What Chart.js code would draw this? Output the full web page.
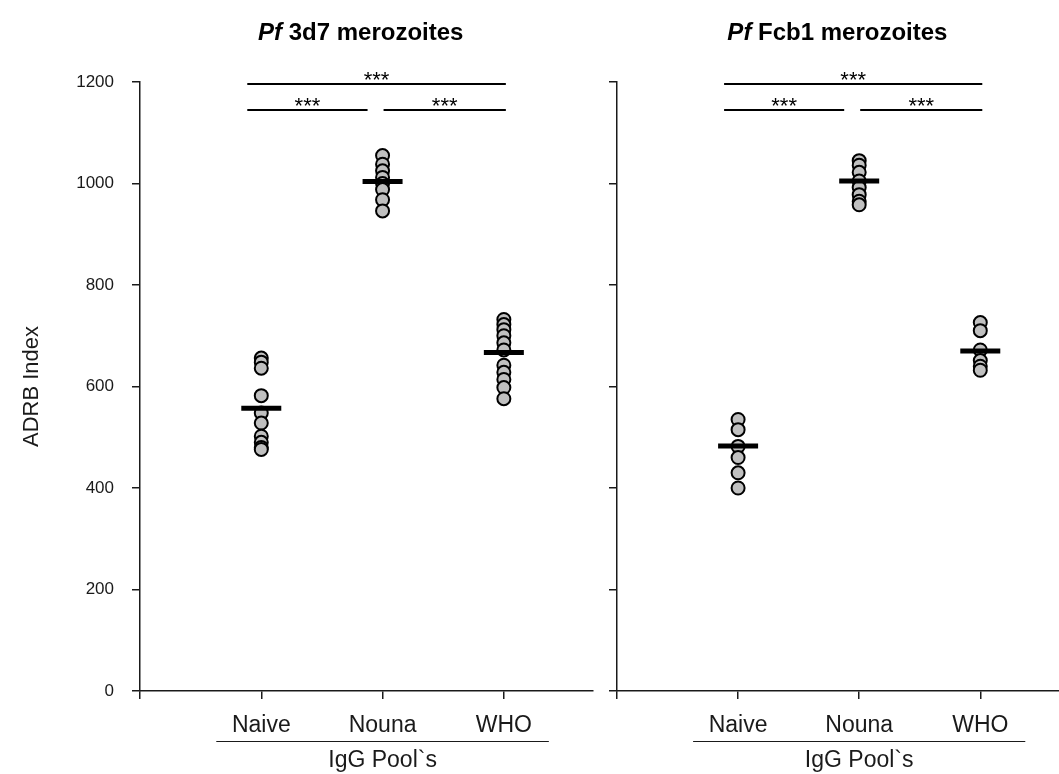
<!DOCTYPE html>
<html>
<head>
<meta charset="utf-8">
<title>ADRB Index</title>
<script src="https://cdn.jsdelivr.net/npm/chart.js@4.4.0/dist/chart.umd.min.js"></script>
<style>
  body { margin: 0; background: #fff; }
  #wrap { position: relative; width: 1059px; height: 774px; overflow: hidden; }
  canvas { position: absolute; top: 0; }
</style>
</head>
<body>
<div id="wrap">
  <canvas id="left-canvas" style="left:0px" width="600" height="774"></canvas>
  <canvas id="right-canvas" style="left:600px" width="459" height="774"></canvas>
</div>
<script>
// categories and tick labels
const categories = ["Naive", "Nouna", "WHO"];
const yTicks = [0, 200, 400, 600, 800, 1000, 1200];
const groupLabel = "IgG Pool`s";

// Pf 3d7 merozoites
const pf3d7Naive = [656, 648, 636, 582, 548, 528, 502, 490, 480, 476];
const pf3d7Nouna = [1055, 1038, 1025, 1012, 1000, 988, 968, 946];
const pf3d7Who = [732, 722, 712, 700, 686, 672, 642, 628, 614, 598, 576];
const pf3d7Means = [557, 1004, 667];

// Pf Fcb1 merozoites
const fcb1Naive = [535, 515, 482, 460, 430, 400];
const fcb1Nouna = [1045, 1036, 1022, 1005, 992, 978, 965, 958];
const fcb1Who = [726, 710, 672, 651, 640, 632];
const fcb1Means = [483, 1005, 670];

// significance brackets: [from category, to category, label]
const comparisons = [[1, 3, "***"], [1, 2, "***"], [2, 3, "***"]];

const FONT = "'Liberation Sans', Arial, sans-serif";
const INK = "#1a1a1a";

function toPoints(groups) {
  let pts = [];
  groups.forEach((vals, i) => {
    vals.forEach(v => pts.push({ x: i + 1, y: v }));
  });
  return pts;
}

// title, significance bars and the group underline
const decorPlugin = {
  id: "decor",
  afterDraw(chart, args, opts) {
    const ctx = chart.ctx;
    const xs = chart.scales.x;
    const ys = chart.scales.y;
    ctx.save();

    // title with italic "Pf"
    const cx = xs.getPixelForValue(1.82);
    ctx.textBaseline = "middle";
    ctx.fillStyle = "#000";
    ctx.font = "italic bold 24px " + FONT;
    const w1 = ctx.measureText("Pf").width;
    ctx.font = "bold 24px " + FONT;
    const w2 = ctx.measureText(" " + opts.title).width;
    let tx = cx - (w1 + w2) / 2;
    ctx.textAlign = "left";
    ctx.font = "italic bold 24px " + FONT;
    ctx.fillText("Pf", tx, 33);
    ctx.font = "bold 24px " + FONT;
    ctx.fillText(" " + opts.title, tx + w1, 33);

    // significance bars
    ctx.strokeStyle = "#000";
    ctx.lineWidth = 2;
    ctx.font = "22px " + FONT;
    ctx.textAlign = "center";
    ctx.textBaseline = "alphabetic";
    comparisons.forEach(c => {
      const wide = (c[1] - c[0]) > 1;
      const level = wide ? 1197 : 1144;
      const y = Math.round(ys.getPixelForValue(level));
      const x1 = xs.getPixelForValue(c[0]) + (c[0] === 1 ? -14 : 1);
      const x2 = xs.getPixelForValue(c[1]) + (c[1] === 3 ? 2 : -15);
      ctx.beginPath();
      ctx.moveTo(x1, y);
      ctx.lineTo(x2, y);
      ctx.stroke();
      ctx.fillText(c[2], (x1 + x2) / 2, y + 3);
    });

    // underline below categories and group label
    const u1 = xs.getPixelForValue(1) - 45;
    const u2 = xs.getPixelForValue(3) + 45;
    ctx.lineWidth = 1;
    ctx.strokeStyle = INK;
    ctx.beginPath();
    ctx.moveTo(u1, 741.5);
    ctx.lineTo(u2, 741.5);
    ctx.stroke();
    ctx.fillStyle = INK;
    ctx.font = "23px " + FONT;
    ctx.textBaseline = "middle";
    ctx.fillText(groupLabel, xs.getPixelForValue(2), 761);
    ctx.restore();
  }
};

function makeChart(canvasId, title, groups, means, xMax, yWidth, showYLabels) {
  const ctx = document.getElementById(canvasId);
  return new Chart(ctx, {
    type: "scatter",
    data: {
      datasets: [
        {
          label: "mean",
          data: means.map((m, i) => ({ x: i + 1, y: m })),
          pointStyle: "line",
          pointRadius: 20,
          pointHoverRadius: 20,
          borderWidth: 5,
          pointBorderWidth: 5,
          borderColor: "#000",
          backgroundColor: "#000",
          order: 0
        },
        {
          label: "samples",
          data: toPoints(groups),
          pointRadius: 6.5,
          pointHoverRadius: 6.5,
          borderWidth: 2,
          borderColor: "#000",
          backgroundColor: "#c0c0c0",
          order: 1
        }
      ]
    },
    options: {
      responsive: false,
      animation: false,
      devicePixelRatio: 1,
      layout: {
        autoPadding: false,
        padding: { top: 82, left: 0, right: showYLabels ? 7 : 0, bottom: 0 }
      },
      plugins: {
        legend: { display: false },
        tooltip: { enabled: false },
        decor: { title: title }
      },
      scales: {
        x: {
          type: "linear",
          min: 0,
          max: xMax,
          afterBuildTicks: s => { s.ticks = [0, 1, 2, 3].map(v => ({ value: v })); },
          afterFit: s => { s.height = 83; },
          grid: { drawOnChartArea: false, drawTicks: true, tickLength: 8, color: INK, lineWidth: 1.5 },
          border: { display: true, color: INK, width: 1.5 },
          ticks: {
            padding: 13,
            color: INK,
            font: { family: FONT, size: 23 },
            callback: v => (v >= 1 && v <= 3) ? categories[v - 1] : ""
          }
        },
        y: {
          min: 0,
          max: 1200,
          afterBuildTicks: s => { s.ticks = yTicks.map(v => ({ value: v })); },
          afterFit: s => { s.width = yWidth; },
          grid: { drawOnChartArea: false, drawTicks: true, tickLength: 8, color: INK, lineWidth: 1.5 },
          border: { display: true, color: INK, width: 1.5 },
          ticks: {
            display: showYLabels,
            padding: 18,
            color: INK,
            font: { family: FONT, size: 17 },
            callback: v => String(v)
          },
          title: {
            display: showYLabels,
            text: "ADRB Index",
            color: INK,
            font: { family: FONT, size: 22 },
            padding: { top: 19, bottom: 0 }
          }
        }
      }
    },
    plugins: [decorPlugin]
  });
}

makeChart("left-canvas", "3d7 merozoites", [pf3d7Naive, pf3d7Nouna, pf3d7Who], pf3d7Means, 3.735, 140, true);
makeChart("right-canvas", "Fcb1 merozoites", [fcb1Naive, fcb1Nouna, fcb1Who], fcb1Means, 3.65, 17, false);
</script>
</body>
</html>
